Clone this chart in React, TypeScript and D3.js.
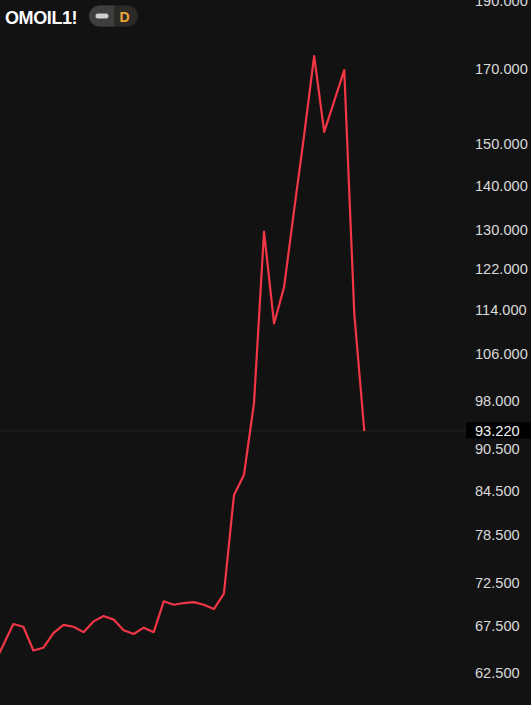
import React, { useEffect, useRef } from 'react';
import * as d3 from 'd3';

// daily closes (first one sits just off the left edge)
const closes = [
  63.2, 65.4, 67.7, 67.4, 64.8, 65.1, 66.7, 67.6, 67.4, 66.8,
  68.0, 68.6, 68.2, 67.0, 66.6, 67.3, 66.8, 70.3, 69.9, 70.1,
  70.2, 69.9, 69.4, 71.2, 83.8, 86.7, 97.6, 129.7, 111.4, 118.3,
  134.4, 152.2, 173.5, 153.0, 161.0, 169.5, 113.3, 93.22,
];

const axisTicks = [190, 170, 150, 140, 130, 122, 114, 106, 98, 90.5, 84.5, 78.5, 72.5, 67.5, 62.5];
const lastPrice = 93.22;
const symbol = 'OMOIL1!';
const interval = 'D';

const App: React.FC = () => {
  const svgRef = useRef<SVGSVGElement>(null);

  useEffect(() => {
    if (!svgRef.current) return;
    const width = 531;
    const height = 705;

    const svg = d3.select(svgRef.current);
    svg.selectAll('*').remove();
    svg.attr('width', width).attr('height', height);

    svg.append('rect').attr('width', width).attr('height', height).attr('fill', '#121212');

    // log price scale
    const y = d3.scaleLog().domain([62.5, 170]).range([672.3, 68.3]);
    const x = d3.scaleLinear().domain([1, closes.length - 1]).range([3.3, 364.3]);

    // last price line
    svg.append('line')
      .attr('x1', 0)
      .attr('x2', 466)
      .attr('y1', y(lastPrice))
      .attr('y2', y(lastPrice))
      .attr('stroke', '#242424')
      .attr('stroke-width', 1);

    const line = d3.line<number>()
      .x((_, i) => x(i))
      .y((d) => y(d));

    svg.append('path')
      .datum(closes)
      .attr('d', line)
      .attr('fill', 'none')
      .attr('stroke', '#f23645')
      .attr('stroke-width', 2.2)
      .attr('stroke-linejoin', 'round');

    // price axis labels
    const font = '"Liberation Sans", Arial, sans-serif';
    svg.append('g')
      .selectAll('text')
      .data(axisTicks)
      .enter()
      .append('text')
      .attr('x', 475)
      .attr('y', (d) => y(d))
      .attr('dy', '0.36em')
      .attr('fill', '#dadada')
      .attr('font-family', font)
      .attr('font-size', '14.6px')
      .text((d) => d.toFixed(3));

    // last price badge
    const yl = y(lastPrice);
    svg.append('rect')
      .attr('x', 466)
      .attr('y', yl - 8.5)
      .attr('width', 65)
      .attr('height', 16)
      .attr('fill', '#000000');
    svg.append('text')
      .attr('x', 475)
      .attr('y', yl)
      .attr('dy', '0.36em')
      .attr('fill', '#f0f0f0')
      .attr('font-family', font)
      .attr('font-size', '14.6px')
      .text(lastPrice.toFixed(3));

    // header
    svg.append('text')
      .attr('x', 5)
      .attr('y', 24)
      .attr('fill', '#ffffff')
      .attr('font-family', font)
      .attr('font-weight', 'bold')
      .attr('font-size', '18px')
      .attr('letter-spacing', '-0.4px')
      .text(symbol);

    const pill = svg.append('g');
    pill.append('rect')
      .attr('x', 89).attr('y', 5.5).attr('width', 49).attr('height', 21).attr('rx', 10.5)
      .attr('fill', '#2c2a27');
    pill.append('path')
      .attr('d', 'M99.5,5.5 H114 V26.5 H99.5 A10.5,10.5 0 0 1 99.5,5.5 Z')
      .attr('fill', '#3e3e3e');
    pill.append('rect')
      .attr('x', 95.5).attr('y', 13.5).attr('width', 13).attr('height', 5).attr('rx', 2.5)
      .attr('fill', '#cfcfcf');
    pill.append('text')
      .attr('x', 124.5)
      .attr('y', 21.6)
      .attr('text-anchor', 'middle')
      .attr('fill', '#f0a53a')
      .attr('font-family', font)
      .attr('font-weight', 'bold')
      .attr('font-size', '14px')
      .text(interval);
  }, []);

  return <svg ref={svgRef} style={{ position: 'absolute', left: 0, top: 0, display: 'block' }}></svg>;
};

export default App;
